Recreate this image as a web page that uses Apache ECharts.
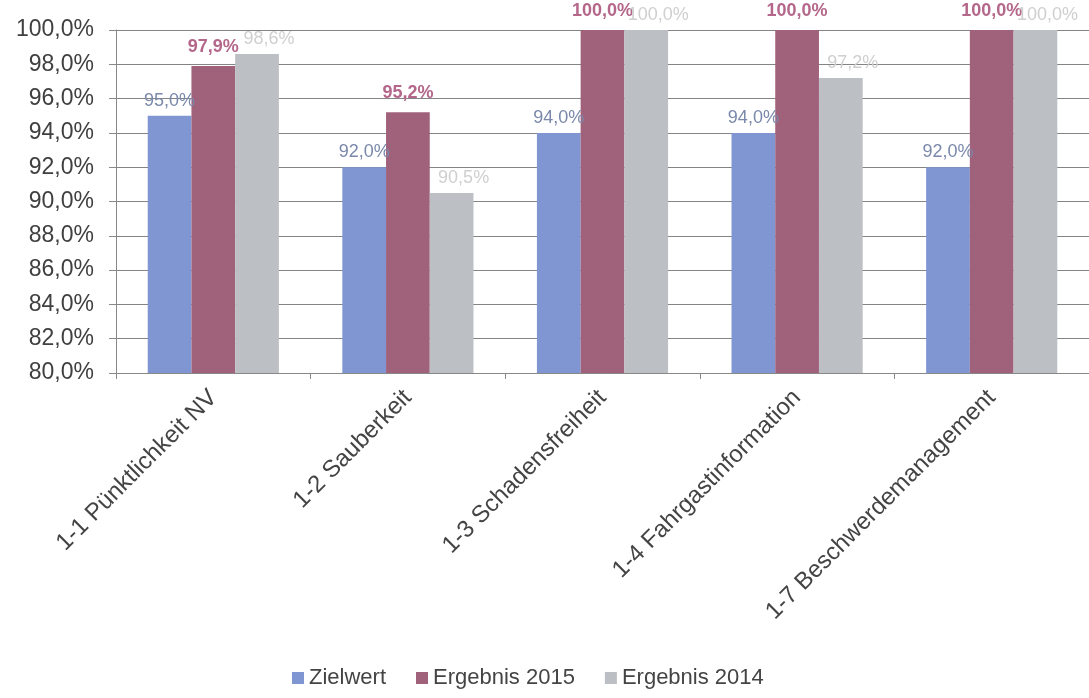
<!DOCTYPE html>
<html>
<head>
<meta charset="utf-8">
<script src="https://cdn.jsdelivr.net/npm/echarts@6/dist/echarts.min.js"></script>
<style>
    html, body { margin: 0; padding: 0; background: #fff; }
    #main { width: 1089px; height: 698px; }
</style>
</head>
<body>
<div id="main"></div>
<script>
    var categories = ['1-1 Pünktlichkeit NV', '1-2 Sauberkeit', '1-3 Schadensfreiheit', '1-4 Fahrgastinformation', '1-7 Beschwerdemanagement'];
    var zielwert = [95.0, 92.0, 94.0, 94.0, 92.0];
    var ergebnis2015 = [97.9, 95.2, 100.0, 100.0, 100.0];
    var ergebnis2014 = [98.6, 90.5, 100.0, 97.2, 100.0];

    function pct(v) {
        return v.toFixed(1).replace('.', ',') + '%';
    }

    var chart = echarts.init(document.getElementById('main'));
    var font = 'Liberation Sans, Arial, sans-serif';

    var option = {
        backgroundColor: '#ffffff',
        animation: false,
        textStyle: { fontFamily: font },
        legend: {
            left: 287,
            bottom: 4,
            itemWidth: 12,
            itemHeight: 12,
            itemGap: 30,
            icon: 'rect',
            textStyle: { fontSize: 22, color: '#444', fontFamily: font },
            data: ['Zielwert', 'Ergebnis 2015', 'Ergebnis 2014']
        },
        grid: {
            left: 116,
            top: 30,
            width: 980,
            bottom: 325,
            containLabel: false
        },
        xAxis: {
            type: 'category',
            data: categories,
            axisLine: { lineStyle: { color: '#888', width: 1 } },
            axisTick: { show: true, length: 6, lineStyle: { color: '#888' } },
            axisLabel: {
                rotate: 45,
                margin: 21,
                interval: 0,
                fontSize: 24,
                color: '#444',
                fontFamily: font
            }
        },
        yAxis: {
            type: 'value',
            min: 80,
            max: 100,
            interval: 2,
            axisLine: { show: true, lineStyle: { color: '#888' } },
            axisTick: { show: true, length: 7, lineStyle: { color: '#888' } },
            splitLine: { lineStyle: { color: '#848484', width: 1 } },
            axisLabel: {
                fontSize: 23,
                color: '#404040',
                margin: 22,
                fontFamily: font,
                formatter: function (v) { return pct(v); }
            }
        },
        series: [
            {
                name: 'Zielwert',
                type: 'bar',
                barGap: '0%',
                barCategoryGap: '32.6%',
                itemStyle: { color: '#7f96d2' },
                label: {
                    show: true,
                    position: 'top',
                    distance: 6,
                    fontSize: 18,
                    color: '#7a88ab',
                    formatter: function (p) { return pct(p.value); }
                },
                data: zielwert
            },
            {
                name: 'Ergebnis 2015',
                type: 'bar',
                itemStyle: { color: '#a0617b' },
                label: {
                    show: true,
                    position: 'top',
                    distance: 10,
                    fontSize: 18,
                    fontWeight: 'bold',
                    color: '#b4678a',
                    formatter: function (p) { return pct(p.value); }
                },
                data: ergebnis2015
            },
            {
                name: 'Ergebnis 2014',
                type: 'bar',
                itemStyle: { color: '#bcbfc3' },
                label: {
                    show: true,
                    position: 'top',
                    distance: 6,
                    offset: [12, 0],
                    fontSize: 18,
                    color: '#cfcfcf',
                    formatter: function (p) { return pct(p.value); }
                },
                data: ergebnis2014
            }
        ]
    };

    chart.setOption(option);
</script>
</body>
</html>
